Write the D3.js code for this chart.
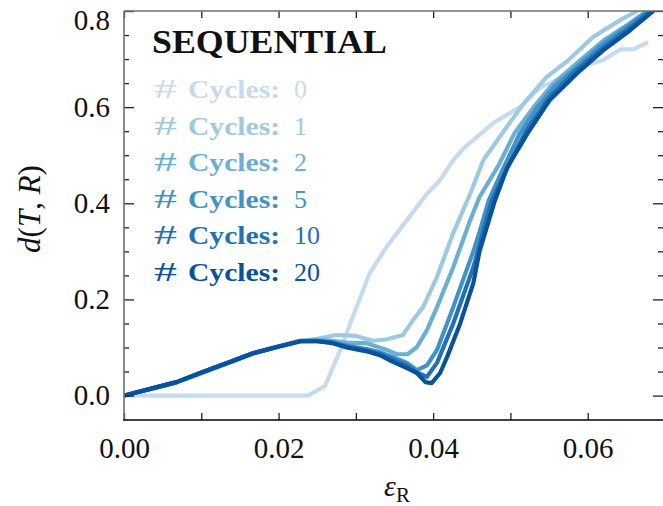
<!DOCTYPE html>
<html>
<head>
<meta charset="utf-8">
<script src="https://cdn.jsdelivr.net/npm/d3@7"></script>
<style>
html,body{margin:0;padding:0;background:#fff;}
svg{display:block;}
text{font-family:"Liberation Serif","DejaVu Serif",serif;}
</style>
</head>
<body>
<svg id="chart" width="663" height="506"></svg>
<script>
// ---- data ----
const cycles = [0, 1, 2, 5, 10, 20];
const colors = ["#c6dbef", "#9ecae1", "#6baed6", "#4292c6", "#2171b5", "#08519c"];

const eps0 = [0, 0.0238, 0.026, 0.028, 0.0296, 0.0318, 0.034, 0.0366, 0.0392, 0.0409, 0.0426, 0.0441, 0.0478, 0.0512, 0.0538, 0.0564, 0.059, 0.062, 0.0642, 0.0659, 0.0678];
const d0   = [0, 0, 0.02, 0.095, 0.164, 0.255, 0.31, 0.365, 0.42, 0.448, 0.49, 0.517, 0.567, 0.6, 0.64, 0.66, 0.683, 0.698, 0.72, 0.72, 0.735];

const eps1 = [0, 0.0034, 0.0068, 0.0102, 0.0137, 0.0167, 0.0198, 0.0228, 0.025, 0.0275, 0.030, 0.0322, 0.034, 0.0361, 0.0374, 0.0387, 0.0405, 0.0426, 0.0448, 0.0465, 0.0495, 0.0516, 0.0547, 0.0573, 0.0607, 0.0642, 0.0664, 0.0685];
const d1   = [0, 0.013, 0.027, 0.047, 0.068, 0.087, 0.101, 0.114, 0.118, 0.126, 0.124, 0.114, 0.117, 0.126, 0.157, 0.184, 0.247, 0.338, 0.42, 0.49, 0.558, 0.605, 0.663, 0.695, 0.746, 0.781, 0.80, 0.82];

const eps2 = [0, 0.0034, 0.0068, 0.0102, 0.0137, 0.0167, 0.0198, 0.0228, 0.025, 0.027, 0.0288, 0.0314, 0.034, 0.0353, 0.0367, 0.0379, 0.0392, 0.0405, 0.0426, 0.0448, 0.046, 0.0485, 0.0505, 0.053, 0.0555, 0.0585, 0.062, 0.0655, 0.0685];
const d2   = [0, 0.014, 0.028, 0.049, 0.07, 0.088, 0.102, 0.114, 0.116, 0.114, 0.11, 0.109, 0.095, 0.086, 0.086, 0.101, 0.136, 0.184, 0.267, 0.365, 0.413, 0.48, 0.545, 0.6, 0.648, 0.69, 0.738, 0.775, 0.81];

const eps5 = [0, 0.0034, 0.0068, 0.0102, 0.0137, 0.0167, 0.0198, 0.0228, 0.025, 0.027, 0.0288, 0.0314, 0.0331, 0.0348, 0.0366, 0.0379, 0.0392, 0.0405, 0.0426, 0.0452, 0.046, 0.0472, 0.049, 0.0512, 0.0535, 0.0558, 0.0587, 0.062, 0.0655, 0.0685];
const d5   = [0, 0.014, 0.028, 0.049, 0.07, 0.088, 0.101, 0.113, 0.114, 0.111, 0.104, 0.097, 0.09, 0.08, 0.068, 0.053, 0.063, 0.095, 0.184, 0.3, 0.34, 0.406, 0.47, 0.545, 0.6, 0.645, 0.685, 0.732, 0.772, 0.808];

const eps10 = [0, 0.0034, 0.0068, 0.0102, 0.0137, 0.0167, 0.0198, 0.0228, 0.025, 0.027, 0.0288, 0.0314, 0.0331, 0.0348, 0.0366, 0.0379, 0.0392, 0.0405, 0.0426, 0.0452, 0.0476, 0.0495, 0.052, 0.055, 0.0584, 0.062, 0.0655, 0.0685];
const d10   = [0, 0.014, 0.028, 0.049, 0.07, 0.088, 0.101, 0.113, 0.113, 0.11, 0.102, 0.094, 0.087, 0.075, 0.062, 0.048, 0.039, 0.068, 0.15, 0.267, 0.406, 0.47, 0.55, 0.62, 0.675, 0.724, 0.766, 0.805];

const eps20 = [0, 0.0034, 0.0068, 0.0102, 0.0137, 0.0167, 0.0198, 0.0228, 0.025, 0.027, 0.0288, 0.0314, 0.0331, 0.0348, 0.0366, 0.0379, 0.039, 0.0398, 0.0409, 0.0418, 0.0435, 0.0452, 0.046, 0.048, 0.0496, 0.0522, 0.0551, 0.0586, 0.062, 0.0655, 0.0685];
const d20   = [0, 0.014, 0.028, 0.049, 0.07, 0.088, 0.101, 0.113, 0.113, 0.109, 0.1, 0.092, 0.084, 0.07, 0.057, 0.047, 0.028, 0.026, 0.047, 0.08, 0.15, 0.234, 0.3, 0.406, 0.475, 0.545, 0.615, 0.67, 0.718, 0.76, 0.80];

const seriesEps = [eps0, eps1, eps2, eps5, eps10, eps20];
const seriesD   = [d0, d1, d2, d5, d10, d20];

const xMajor = [0, 0.02, 0.04, 0.06];
const xMajorLabels = ["0.00", "0.02", "0.04", "0.06"];
const xMinor = [0.01, 0.03, 0.05];
const yMajor = [0, 0.2, 0.4, 0.6, 0.8];
const yMajorLabels = ["0.0", "0.2", "0.4", "0.6", "0.8"];
const yMinor = [0.05, 0.1, 0.15, 0.25, 0.3, 0.35, 0.45, 0.5, 0.55, 0.65, 0.7, 0.75];

const title = "SEQUENTIAL";

// ---- layout ----
const L = 124, R = 665, T = 11, B = 420;
const svg = d3.select("#chart");
const x = d3.scaleLinear().domain([0, 0.07]).range([L, R]);
const y = d3.scaleLinear().domain([-0.0508, 0.8]).range([B, T]);

svg.append("defs").append("clipPath").attr("id", "clip")
  .append("rect").attr("x", L).attr("y", T).attr("width", R - L).attr("height", B - T);

// lines
const line = d3.line().x(p => x(p[0])).y(p => y(p[1])).curve(d3.curveLinear);
const gLines = svg.append("g").attr("clip-path", "url(#clip)");
seriesEps.forEach((e, i) => {
  const pts = e.map((v, j) => [v, seriesD[i][j]]);
  gLines.append("path").datum(pts)
    .attr("d", line)
    .attr("fill", "none")
    .attr("stroke", colors[i])
    .attr("stroke-width", 4.2)
    .attr("stroke-linejoin", "round")
    .attr("stroke-linecap", "butt");
});

// axes
const fmtX = d => xMajorLabels[xMajor.indexOf(d)];
const fmtY = d => yMajorLabels[yMajor.indexOf(d)];

function styleAxis(g) {
  g.select(".domain").remove();
  g.selectAll(".tick line").attr("stroke", "#222").attr("stroke-width", 1.3);
  g.selectAll("text").attr("font-size", 29).attr("fill", "#111")
    .attr("font-family", "'Liberation Serif', serif");
}

// bottom
svg.append("g").attr("transform", `translate(0,${B})`)
  .call(d3.axisBottom(x).tickValues(xMajor).tickFormat(fmtX).tickSizeInner(-7).tickSizeOuter(0).tickPadding(17))
  .call(styleAxis);
svg.append("g").attr("transform", `translate(0,${B})`)
  .call(d3.axisBottom(x).tickValues(xMinor).tickFormat("").tickSizeInner(-7).tickSizeOuter(0))
  .call(styleAxis);
// top
svg.append("g").attr("transform", `translate(0,${T})`)
  .call(d3.axisTop(x).tickValues(xMajor.concat(xMinor)).tickFormat("").tickSizeInner(-7).tickSizeOuter(0))
  .call(styleAxis);
// left
const gyl = svg.append("g").attr("transform", `translate(${L},0)`)
  .call(d3.axisLeft(y).tickValues(yMajor).tickFormat(fmtY).tickSizeInner(-10).tickSizeOuter(0).tickPadding(14))
  .call(styleAxis);
gyl.selectAll(".tick text").attr("dy", function(d){ return d === 0.8 ? "0.64em" : "0.32em"; });
svg.append("g").attr("transform", `translate(${L},0)`)
  .call(d3.axisLeft(y).tickValues(yMinor).tickFormat("").tickSizeInner(-5).tickSizeOuter(0))
  .call(styleAxis);
// right
svg.append("g").attr("transform", `translate(663,0)`)
  .call(d3.axisRight(y).tickValues(yMajor).tickFormat("").tickSizeInner(-10).tickSizeOuter(0))
  .call(styleAxis);
svg.append("g").attr("transform", `translate(663,0)`)
  .call(d3.axisRight(y).tickValues(yMinor).tickFormat("").tickSizeInner(-5).tickSizeOuter(0))
  .call(styleAxis);

// spines
svg.append("line").attr("x1", L).attr("x2", L).attr("y1", T).attr("y2", B)
  .attr("stroke", "#707070").attr("stroke-width", 1.6);
svg.append("line").attr("x1", L).attr("x2", 663).attr("y1", T).attr("y2", T)
  .attr("stroke", "#707070").attr("stroke-width", 1.6);
svg.append("line").attr("x1", L - 0.8).attr("x2", 663).attr("y1", B).attr("y2", B)
  .attr("stroke", "#000").attr("stroke-width", 1.6);

// axis labels
const xl = svg.append("text").attr("x", 397).attr("y", 496).attr("text-anchor", "middle")
  .attr("font-size", 30).attr("fill", "#111");
xl.append("tspan").attr("font-style", "italic").text("ε");
xl.append("tspan").attr("font-size", 21).attr("dy", 6).text("R");

const yl = svg.append("text").attr("transform", "translate(40,209) rotate(-90)")
  .attr("text-anchor", "middle").attr("font-size", 31).attr("fill", "#111");
yl.append("tspan").attr("font-style", "italic").text("d");
yl.append("tspan").text("(");
yl.append("tspan").attr("font-style", "italic").text("T");
yl.append("tspan").text(", ");
yl.append("tspan").attr("font-style", "italic").text("R");
yl.append("tspan").text(")");

// legend
svg.append("text").attr("x", 152).attr("y", 53)
  .attr("font-size", 33).attr("font-weight", "bold").attr("fill", "#111")
  .attr("textLength", 235).attr("lengthAdjust", "spacingAndGlyphs")
  .text(title);

const baselines = [98, 134.5, 171, 207.5, 244, 280.5];
cycles.forEach((c, i) => {
  const g = svg.append("g").attr("fill", colors[i]);
  g.append("text").attr("x", 154).attr("y", baselines[i]).attr("font-size", 27)
    .attr("textLength", 23).attr("lengthAdjust", "spacingAndGlyphs").text("#");
  g.append("text").attr("x", 188).attr("y", baselines[i]).attr("font-size", 26)
    .attr("font-weight", "bold")
    .attr("textLength", 92).attr("lengthAdjust", "spacingAndGlyphs").text("Cycles:");
  g.append("text").attr("x", 294).attr("y", baselines[i]).attr("font-size", 26)
    .text(String(c));
});
</script>
</body>
</html>
